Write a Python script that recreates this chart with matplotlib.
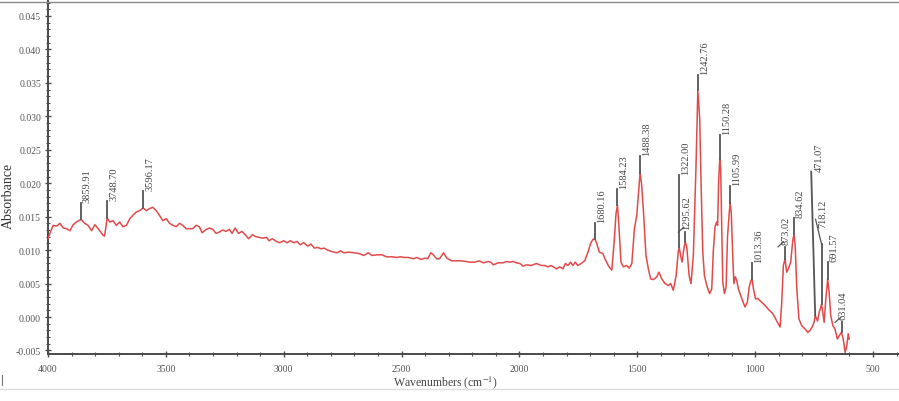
import numpy as np
import matplotlib
matplotlib.use('Agg')
import matplotlib.pyplot as plt
from matplotlib.lines import Line2D
from matplotlib.ticker import MultipleLocator, FormatStrFormatter

plt.rcParams['font.family'] = ['Liberation Serif', 'DejaVu Serif']
plt.rcParams['mathtext.fontset'] = 'stix'

# --- spectrum (cm-1, absorbance) ---
wavenumber = [
    4000, 3992, 3978, 3963, 3949, 3935, 3921, 3907, 3893, 3879, 3860, 3844,
    3830, 3815, 3801, 3787, 3766, 3760, 3749, 3738, 3724, 3710, 3696, 3682,
    3667, 3653, 3640, 3625, 3611, 3596, 3583, 3569, 3555, 3541, 3527, 3513,
    3498, 3484, 3470, 3456, 3442, 3428, 3414, 3400, 3386, 3372, 3358, 3346,
    3329, 3315, 3301, 3287, 3273, 3259, 3245, 3231, 3219, 3206, 3192, 3177,
    3163, 3149, 3132, 3118, 3104, 3090, 3073, 3062, 3048, 3031, 3017, 3000,
    2986, 2972, 2957, 2943, 2930, 2915, 2898, 2884, 2870, 2856, 2842, 2828,
    2814, 2797, 2787, 2773, 2759, 2745, 2724, 2703, 2681, 2660, 2642, 2625,
    2604, 2583, 2564, 2541, 2520, 2505, 2488, 2470, 2449, 2435, 2418, 2400,
    2389, 2376, 2365, 2351, 2339, 2322, 2308, 2287, 2266, 2245, 2226, 2210,
    2188, 2171, 2153, 2132, 2121, 2111, 2090, 2069, 2055, 2040, 2026, 2012,
    1998, 1984, 1970, 1949, 1928, 1907, 1893, 1879, 1865, 1843, 1829, 1815,
    1805, 1794, 1783, 1773, 1763, 1752, 1738, 1723, 1709, 1698, 1688, 1680,
    1672, 1661, 1646, 1637, 1623, 1608, 1598, 1590, 1584, 1578, 1569, 1559,
    1545, 1534, 1523, 1512, 1502, 1495, 1488, 1482, 1474, 1463, 1453, 1443,
    1432, 1417, 1408, 1396, 1382, 1368, 1358, 1347, 1335, 1326, 1322, 1316,
    1310, 1301, 1296, 1290, 1280, 1272, 1262, 1251, 1243, 1235, 1229, 1222,
    1215, 1205, 1193, 1184, 1177, 1170, 1163, 1159, 1155, 1150, 1146, 1141,
    1137, 1130, 1123, 1117, 1110, 1106, 1101, 1095, 1090, 1084, 1078, 1071,
    1057, 1043, 1033, 1025, 1018, 1013, 1007, 998, 990, 975, 960, 945,
    925, 908, 894, 887, 880, 873, 866, 859, 849, 840, 835, 830,
    823, 814, 802, 788, 776, 767, 758, 750, 745, 735, 728, 718,
    713, 707, 700, 692, 686, 679, 670, 661, 651, 643, 634, 626,
    618, 611, 605, 601,
]
absorbance = [
    0.0117, 0.0125, 0.0137, 0.0136, 0.0140, 0.0133, 0.0132, 0.0129, 0.0138, 0.0142, 0.0146, 0.0140,
    0.0137, 0.0129, 0.0138, 0.0132, 0.0122, 0.0121, 0.0148, 0.0142, 0.0144, 0.0137, 0.0142, 0.0135,
    0.0137, 0.0147, 0.0152, 0.0157, 0.0159, 0.0163, 0.0159, 0.0162, 0.0164, 0.0159, 0.0152, 0.0144,
    0.0147, 0.0140, 0.0137, 0.0135, 0.0140, 0.0137, 0.0132, 0.0132, 0.0132, 0.0137, 0.0135, 0.0126,
    0.0131, 0.0133, 0.0131, 0.0125, 0.0127, 0.0130, 0.0128, 0.0131, 0.0125, 0.0133, 0.0125, 0.0128,
    0.0123, 0.0117, 0.0123, 0.0120, 0.0119, 0.0118, 0.0119, 0.0114, 0.0117, 0.0113, 0.0111, 0.0114,
    0.0111, 0.0114, 0.0111, 0.0113, 0.0108, 0.0111, 0.0106, 0.0109, 0.0103, 0.0104, 0.0102, 0.0103,
    0.0100, 0.0098, 0.0097, 0.0096, 0.0099, 0.0096, 0.0097, 0.0096, 0.0095, 0.0092, 0.0096, 0.0092,
    0.0093, 0.0093, 0.0090, 0.0090, 0.0089, 0.0090, 0.0089, 0.0089, 0.0087, 0.0089, 0.0086, 0.0088,
    0.0087, 0.0096, 0.0093, 0.0087, 0.0087, 0.0096, 0.0088, 0.0084, 0.0084, 0.0084, 0.0083, 0.0082,
    0.0082, 0.0084, 0.0081, 0.0083, 0.0082, 0.0078, 0.0081, 0.0081, 0.0083, 0.0082, 0.0083, 0.0081,
    0.0080, 0.0076, 0.0078, 0.0077, 0.0080, 0.0077, 0.0077, 0.0075, 0.0077, 0.0072, 0.0075, 0.0072,
    0.0080, 0.0077, 0.0082, 0.0077, 0.0082, 0.0077, 0.0080, 0.0084, 0.0097, 0.0110, 0.0116, 0.0117,
    0.0110, 0.0097, 0.0095, 0.0087, 0.0077, 0.0070, 0.0112, 0.0155, 0.0167, 0.0137, 0.0082, 0.0075,
    0.0077, 0.0073, 0.0080, 0.0132, 0.0152, 0.0185, 0.0216, 0.0200, 0.0160, 0.0092, 0.0072, 0.0057,
    0.0056, 0.0060, 0.0067, 0.0057, 0.0050, 0.0047, 0.0050, 0.0040, 0.0062, 0.0098, 0.0104, 0.0092,
    0.0082, 0.0105, 0.0112, 0.0105, 0.0062, 0.0050, 0.0092, 0.0222, 0.0339, 0.0296, 0.0196, 0.0097,
    0.0062, 0.0047, 0.0035, 0.0042, 0.0100, 0.0135, 0.0142, 0.0137, 0.0200, 0.0236, 0.0222, 0.0122,
    0.0052, 0.0035, 0.0045, 0.0120, 0.0155, 0.0171, 0.0155, 0.0092, 0.0050, 0.0060, 0.0055, 0.0042,
    0.0028, 0.0015, 0.0022, 0.0045, 0.0054, 0.0057, 0.0042, 0.0027, 0.0028, 0.0023, 0.0018, 0.0012,
    0.0005, -0.0006, -0.0015, 0.0022, 0.0077, 0.0087, 0.0067, 0.0072, 0.0082, 0.0115, 0.0124, 0.0107,
    0.0042, -0.0003, -0.0013, -0.0018, -0.0023, -0.0020, -0.0015, -0.0008, 0.0002, -0.0006, 0.0007, 0.0019,
    0.0007, -0.0008, 0.0027, 0.0057, 0.0037, 0.0002, -0.0013, -0.0018, -0.0033, -0.0028, -0.0023, -0.0033,
    -0.0053, -0.0043, -0.0025, -0.0033,
]

# --- peak picks ---
peak_labels = ['3859.91', '3748.70', '3596.17', '1680.16', '1584.23', '1488.38',
               '1322.00', '1295.62', '1242.76', '1150.28', '1105.99', '1013.36',
               '873.02', '834.62', '471.07', '718.12', '691.57', '631.04']
peak_wn = [3860, 3749, 3596, 1680, 1584, 1488, 1322, 1296, 1243, 1150, 1106, 1013,
           873, 835, 745, 718, 692, 631]
peak_abs = [0.0146, 0.0148, 0.0163, 0.0117, 0.0167, 0.0216, 0.0104, 0.0112, 0.0339,
            0.0236, 0.0171, 0.0057, 0.0087, 0.0124, 0.0002, 0.0019, 0.0057, -0.0023]

# leader length in pixels and leader style
lead_len = [16, 17, 17, 16, 16, 17, 72, 10, 15, 24, 17, 16, 12, 16, 144, 60, 17, 10]
lead_kind = ['v', 'v', 'v', 'v', 'v', 'v', 'v', 'k', 'v', 'v', 'v', 'v',
             'k', 'v', 's', 'd', 'v', 'k']

W, H = 899, 402
fig = plt.figure(figsize=(W / 100, H / 100), dpi=100)
ax = fig.add_axes([48 / W, 47 / H, 851 / W, 353 / H])

ax.plot(wavenumber, absorbance, color='#e24a4a', lw=1.1, zorder=3)

ax.set_xlim(4000, 389.5)
ax.set_ylim(-0.00553, 0.04724)

ax.xaxis.set_major_locator(MultipleLocator(500))
ax.xaxis.set_minor_locator(MultipleLocator(100))
ax.yaxis.set_major_locator(MultipleLocator(0.005))
ax.yaxis.set_minor_locator(MultipleLocator(0.001))
ax.yaxis.set_major_formatter(FormatStrFormatter('%.3f'))
ax.xaxis.set_major_formatter(FormatStrFormatter('%d'))

for s in ['top', 'right']:
    ax.spines[s].set_visible(False)
for s in ['left', 'bottom']:
    ax.spines[s].set_color('#4a4a4a')
    ax.spines[s].set_linewidth(1.4)

ax.tick_params(axis='both', which='major', direction='inout', length=4, width=1,
               color='#4a4a4a', labelsize=7, labelcolor='#555555')
ax.tick_params(axis='both', which='minor', direction='inout', length=2.5, width=0.8,
               color='#4a4a4a')
ax.tick_params(axis='x', which='major', pad=5)
ax.tick_params(axis='y', which='major', pad=3)

fig.text(8 / W, 1 - 196 / H, 'Absorbance', fontsize=10, rotation=90,
         color='#333333', ha='center', va='center')
fig.text(445 / W, 1 - 383 / H, 'Wavenumbers (cm$^{-1}$)', fontsize=8.5,
         color='#444444', ha='center', va='center')

# pixel <-> data scale
ppx = 851 / (4000 - 389.5)
ppy = 353 / (0.04724 + 0.00553)

lc = '#555555'
for lab, wn, a, L, kind in zip(peak_labels, peak_wn, peak_abs, lead_len, lead_kind):
    top = a + L / ppy
    if kind == 'v':
        ax.plot([wn, wn], [a, top], color=lc, lw=1.3, zorder=4)
        tx, ty = wn - 6.5 / ppx, top + 1 / ppy
    elif kind == 'k':
        ax.plot([wn, wn], [a, top], color=lc, lw=1.3, zorder=4)
        ax.plot([wn + 7 / ppx, wn + 1.5 / ppx], [top, top + 5 / ppy], color=lc, lw=0.9, zorder=4)
        tx, ty = wn - 1 / ppx, top + 3 / ppy
    elif kind == 's':
        ax.plot([wn, wn + 4 / ppx], [a, top], color=lc, lw=1.3, zorder=4)
        tx, ty = wn - 4 / ppx, top + 1 / ppy
    else:
        ax.plot([wn, wn], [a, top], color=lc, lw=1.3, zorder=4)
        ax.plot([wn, wn + 6 / ppx], [top, top + 25 / ppy], color=lc, lw=0.9, zorder=4)
        tx, ty = wn - 1 / ppx, top + 17 / ppy
    ax.text(tx, ty, lab, rotation=90, ha='center', va='bottom', fontsize=7.5,
            color='#444444', zorder=5)

# page frame lines
fig.add_artist(Line2D([0, 1], [1 - 2.5 / H, 1 - 2.5 / H], color='#8a8a8a', lw=1.0))
fig.add_artist(Line2D([0, 1], [1 - 390 / H, 1 - 390 / H], color='#dddddd', lw=1.0))
fig.add_artist(Line2D([1.5 / W, 1.5 / W], [1 - 386 / H, 1 - 376 / H], color='#777777', lw=0.8))

fig.savefig('out.png', dpi=100)
